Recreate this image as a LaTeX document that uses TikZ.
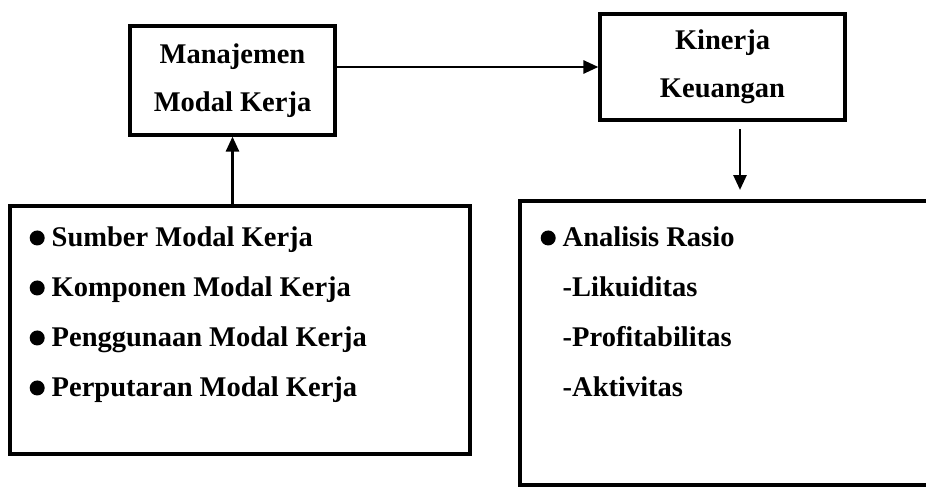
\documentclass[tikz,border=0pt]{standalone}
\usepackage{fontspec}
\setmainfont{Liberation Serif}
\usepackage{tikz}
\usetikzlibrary{arrows.meta}
\tikzstyle{arrow} = [line width=2.7pt,-{Triangle[length=15pt,width=13pt]}]
\tikzstyle{titleBox} = [rectangle, draw=black, line width=3.2pt, align=center, font=\bfseries\fontsize{28.5}{48}\selectfont]
\tikzstyle{listBox} = [rectangle, draw=black, line width=3.2pt]
\tikzstyle{listText} = [anchor=north west, inner sep=0pt, align=left, font=\bfseries\fontsize{28.5}{50}\selectfont]
\newcommand{\listdot}{\tikz[baseline=-9pt]\fill (0,0) circle (7.5pt);\hspace{7pt}}

\begin{document}
\begin{tikzpicture}[x=1pt, y=-1pt]
		\useasboundingbox (0,0) rectangle (926,487);
		\clip (0,0) rectangle (926,487);
		\node (manajemen) [titleBox, minimum width=205pt, minimum height=109pt] at (232.5,80.5) {Manajemen\\Modal Kerja};
		\node (kinerja) [titleBox, minimum width=245pt, minimum height=106pt] at (722.5,67) {Kinerja\\Keuangan};
		\node (sumberBox) [listBox, minimum width=460pt, minimum height=248pt] at (240,330) {};
		\node (rasioBox) [listBox, minimum width=440pt, minimum height=284pt] at (740,343) {};
		\node (sumberList) [listText] at (29.5,227) {\listdot Sumber Modal Kerja\\\listdot Komponen Modal Kerja\\\listdot Penggunaan Modal Kerja\\\listdot Perputaran Modal Kerja};
		\node (rasioList) [listText] at (540.5,227) {\listdot Analisis Rasio\\\hspace*{22pt}-Likuiditas\\\hspace*{22pt}-Profitabilitas\\\hspace*{22pt}-Aktivitas};
		\coordinate (rasioTop) at (740,129);
		\coordinate (rasioEnd) at (740,190);
		\draw [arrow] (manajemen.east |- kinerja.west) -- (kinerja.west);
		\draw [arrow] (manajemen.south |- sumberBox.north) -- (manajemen.south);
		\draw [arrow] (rasioTop) -- (rasioEnd);
	\end{tikzpicture}
\end{document}
